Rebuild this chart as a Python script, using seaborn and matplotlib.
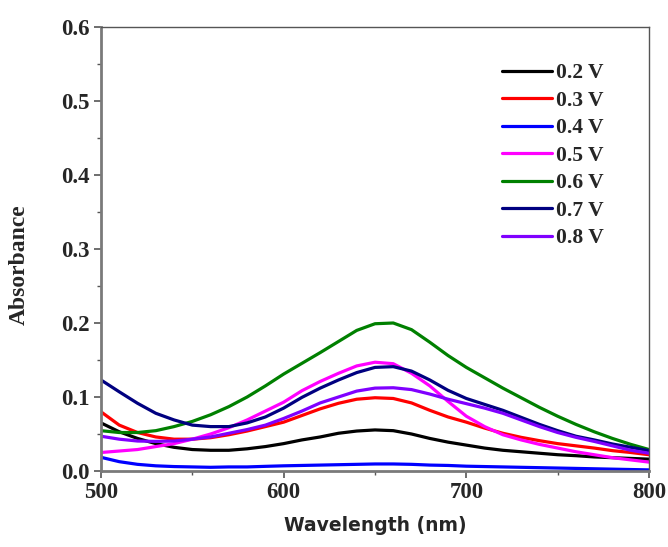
import matplotlib
matplotlib.use("Agg")
import matplotlib.pyplot as plt
import pandas as pd
import seaborn as sns
from matplotlib.ticker import MultipleLocator, FormatStrFormatter
from matplotlib.lines import Line2D

# ---- data ----
wavelength = list(range(500, 801, 10))
voltages = ["0.2 V", "0.3 V", "0.4 V", "0.5 V", "0.6 V", "0.7 V", "0.8 V"]
colors = ["#000000", "#FF0000", "#0000FF", "#FF00FF", "#008000", "#000080", "#8000FF"]

abs_02 = [0.065, 0.053, 0.044, 0.037, 0.032, 0.029, 0.028, 0.028, 0.030, 0.033, 0.037,
          0.042, 0.046, 0.051, 0.054, 0.0555, 0.0545, 0.050, 0.044, 0.039, 0.035,
          0.031, 0.028, 0.026, 0.024, 0.022, 0.0207, 0.019, 0.0180, 0.0170, 0.0160]
abs_03 = [0.080, 0.062, 0.052, 0.046, 0.043, 0.043, 0.045, 0.049, 0.054, 0.060, 0.066,
          0.075, 0.084, 0.0915, 0.097, 0.099, 0.098, 0.092, 0.082, 0.073, 0.066,
          0.058, 0.051, 0.0455, 0.041, 0.037, 0.034, 0.031, 0.0275, 0.025, 0.022]
abs_04 = [0.0185, 0.0126, 0.009, 0.007, 0.006, 0.0055, 0.005, 0.0055, 0.0055, 0.0063, 0.007,
          0.0075, 0.008, 0.0085, 0.009, 0.0095, 0.0095, 0.009, 0.008, 0.0075, 0.0065,
          0.006, 0.0055, 0.005, 0.0045, 0.004, 0.0035, 0.003, 0.0025, 0.002, 0.0015]
abs_05 = [0.025, 0.027, 0.029, 0.033, 0.037, 0.043, 0.050, 0.0585, 0.069, 0.081, 0.093,
          0.1085, 0.121, 0.132, 0.142, 0.147, 0.145, 0.132, 0.115, 0.094, 0.074,
          0.060, 0.049, 0.042, 0.036, 0.031, 0.026, 0.0220, 0.018, 0.015, 0.0120]
abs_06 = [0.0545, 0.052, 0.052, 0.0545, 0.060, 0.067, 0.076, 0.087, 0.100, 0.115, 0.131,
          0.1455, 0.160, 0.175, 0.190, 0.199, 0.200, 0.191, 0.174, 0.156, 0.140,
          0.126, 0.112, 0.099, 0.086, 0.074, 0.063, 0.053, 0.044, 0.036, 0.029]
abs_07 = [0.123, 0.107, 0.0915, 0.078, 0.069, 0.062, 0.060, 0.060, 0.065, 0.073, 0.085,
          0.0995, 0.112, 0.123, 0.133, 0.140, 0.141, 0.135, 0.123, 0.109, 0.098,
          0.090, 0.082, 0.0725, 0.063, 0.0545, 0.047, 0.042, 0.0365, 0.032, 0.0275]
abs_08 = [0.047, 0.043, 0.0405, 0.040, 0.0405, 0.043, 0.046, 0.051, 0.056, 0.062, 0.071,
          0.081, 0.092, 0.100, 0.108, 0.112, 0.1125, 0.110, 0.104, 0.097, 0.091,
          0.085, 0.078, 0.069, 0.060, 0.052, 0.0455, 0.040, 0.034, 0.028, 0.024]

series = [abs_02, abs_03, abs_04, abs_05, abs_06, abs_07, abs_08]
frames = []
for v, vals in zip(voltages, series):
    frames.append(pd.DataFrame({"Wavelength": wavelength, "Absorbance": vals, "Voltage": v}))
df = pd.concat(frames, ignore_index=True)

# ---- style ----
sns.set_style("white")
plt.rcParams["font.family"] = ["Liberation Serif", "DejaVu Serif"]
plt.rcParams["font.weight"] = "bold"
plt.rcParams["lines.solid_joinstyle"] = "round"
plt.rcParams["lines.solid_capstyle"] = "round"

fig = plt.figure(figsize=(6.68, 5.47), dpi=100)
ax = fig.add_axes([101 / 668, 1 - 471 / 547, 548 / 668, 444 / 547])

sns.lineplot(data=df, x="Wavelength", y="Absorbance", hue="Voltage",
             hue_order=voltages, palette=dict(zip(voltages, colors)),
             linewidth=2.3, estimator=None, ax=ax, legend=False)

ax.set_xlim(500, 800)
ax.set_ylim(0, 0.6)
ax.xaxis.set_major_locator(MultipleLocator(100))
ax.xaxis.set_minor_locator(MultipleLocator(50))
ax.yaxis.set_major_locator(MultipleLocator(0.1))
ax.yaxis.set_minor_locator(MultipleLocator(0.05))
ax.yaxis.set_major_formatter(FormatStrFormatter("%.1f"))

for s in ["left", "bottom"]:
    ax.spines[s].set_color("#7a7a7a")
    ax.spines[s].set_linewidth(2.0)
for s in ["top", "right"]:
    ax.spines[s].set_color("#555555")
    ax.spines[s].set_linewidth(1.0)

ax.tick_params(which="major", direction="out", length=5, width=1.2, color="#555555",
               labelsize=16.5, bottom=True, left=True, top=False, right=False, pad=3)
ax.tick_params(which="minor", direction="out", length=3, width=1.0, color="#555555",
               bottom=True, left=True, top=False, right=False)
for lab in ax.get_xticklabels() + ax.get_yticklabels():
    lab.set_fontweight("bold")

ax.set_xlabel("Wavelength (nm)", family="DejaVu Sans", fontweight="bold", fontsize=13.5,
              labelpad=9)
ax.set_ylabel("Absorbance", fontsize=17, fontweight="bold")
ax.yaxis.set_label_coords(-0.13, 0.465)

handles = [Line2D([], [], color=c, linewidth=2.3) for c in colors]
ax.legend(handles, voltages, frameon=False, loc="upper left",
          bbox_to_anchor=(0.732, 0.918), borderpad=0, borderaxespad=0,
          handlelength=2.3, handletextpad=0.2, labelspacing=0.345,
          prop={"family": "Liberation Serif", "weight": "bold", "size": 15.5})

fig.savefig("out.png", dpi=100)
